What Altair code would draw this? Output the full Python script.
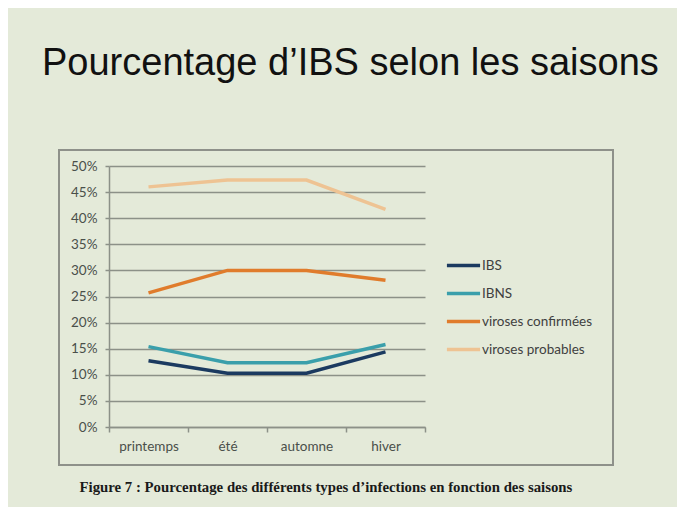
import altair as alt
import pandas as pd

saisons = ["printemps", "été", "automne", "hiver"]
series = ["IBS", "IBNS", "viroses confirmées", "viroses probables"]
ibs = [12.7, 10.3, 10.3, 14.4]
ibns = [15.4, 12.3, 12.3, 15.8]
conf = [25.7, 30.0, 30.0, 28.1]
prob = [46.0, 47.3, 47.3, 41.7]
colors = ["#1b3a60", "#3a9fab", "#e07c2c", "#eec393"]
yticks = [0, 5, 10, 15, 20, 25, 30, 35, 40, 45, 50]

rows = []
for name, vals in zip(series, [ibs, ibns, conf, prob]):
    for s, v in zip(saisons, vals):
        rows.append({"saison": s, "serie": name, "valeur": v / 100})
df = pd.DataFrame(rows)

BG = "#e4ead9"
GRID = "#8c9188"
TXT = "#4a4f4a"

frame = alt.Chart(pd.DataFrame({"a": [0]})).mark_rect(
    fillOpacity=0, stroke="#8e918a", strokeWidth=2
).encode(
    x=alt.value(-50), x2=alt.value(504), y=alt.value(-16), y2=alt.value(299)
)

lines = alt.Chart(df).mark_line(strokeWidth=3.5).encode(
    x=alt.X("saison:N", sort=saisons,
            scale=alt.Scale(paddingInner=0, paddingOuter=0),
            axis=alt.Axis(
                title="Figure 7 : Pourcentage des différents types d’infections en fonction des saisons",
                titleFont="Liberation Serif", titleFontWeight="bold", titleFontSize=14.8,
                titleColor="#1a1a1a", titleAnchor="start", titleAlign="left",
                titleBaseline="alphabetic", titleX=-30, titleY=64,
                labelAngle=0, labelFont="Lato", labelFontSize=13.5, labelColor=TXT,
                labelPadding=7, tickBand="extent", tickSize=5, tickColor=GRID,
                tickWidth=1.5, domainColor=GRID, domainWidth=1.5, grid=False)),
    y=alt.Y("valeur:Q",
            scale=alt.Scale(domain=[0, 0.5], nice=False),
            axis=alt.Axis(title=None, format=".0%", values=[v / 100 for v in yticks],
                          labelFont="Lato", labelFontSize=13.5, labelColor=TXT,
                          labelPadding=8, tickSize=4, tickColor=GRID, tickWidth=1.5,
                          domainColor=GRID, domainWidth=1.5,
                          grid=True, gridColor=GRID, gridWidth=1.5)),
    color=alt.Color("serie:N", sort=series,
                    scale=alt.Scale(domain=series, range=colors),
                    legend=alt.Legend(title=None, orient="none", legendX=336, legendY=81,
                                      symbolType="stroke", symbolSize=1100,
                                      symbolStrokeWidth=3.5, labelOffset=0,
                                      labelFont="Lato", labelFontSize=13.5,
                                      labelColor="#404040", rowPadding=2)),
    order=alt.Order("serie:N"),
)

chart = alt.layer(frame, lines).properties(
    width=316, height=261,
    background=BG,
    autosize=alt.AutoSizeParams(type="none"),
    padding={"left": 101, "top": 158, "right": 252, "bottom": 80},
    title=alt.TitleParams(
        "Pourcentage d’IBS selon les saisons",
        font="Liberation Sans", fontSize=38, fontWeight="normal", color="#111111",
        anchor="start", frame="group", dx=-67, offset=36, baseline="alphabetic",
    ),
).configure_view(stroke=None)

chart.save("out.html", embed_options={"renderer": "svg", "actions": False})
